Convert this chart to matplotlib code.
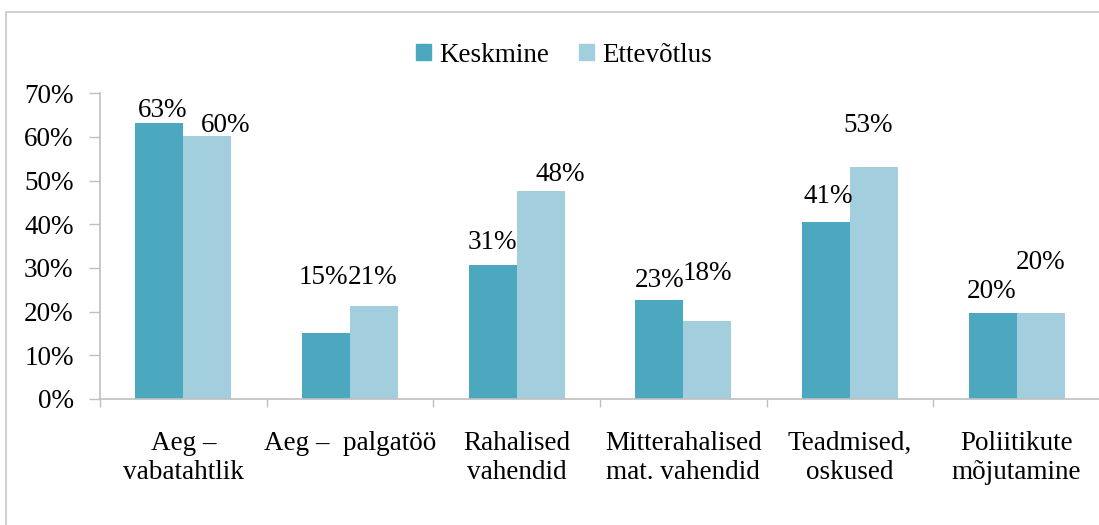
import numpy as np
import matplotlib
matplotlib.use('Agg')
import matplotlib.pyplot as plt
from matplotlib.patches import Rectangle, Patch
from matplotlib.ticker import PercentFormatter

categories = ['Aeg –\nvabatahtlik', 'Aeg –  palgatöö', 'Rahalised\nvahendid',
              'Mitterahalised\nmat. vahendid', 'Teadmised,\noskused', 'Poliitikute\nmõjutamine']
keskmine = [63.1, 15.0, 30.7, 22.6, 40.6, 19.8]
ettevotlus = [60.2, 21.3, 47.7, 17.8, 53.2, 19.8]
series_names = ['Keskmine', 'Ettevõtlus']
yticks = [0, 10, 20, 30, 40, 50, 60, 70]

# label nudges (pixels) - the original labels sit a bit irregularly
nudge_k = [(3, 6), (-3, 49), (0, 16), (0, 13), (2, 19), (-1, 15)]
nudge_e = [(18, 4), (-1, 22), (20, 10), (0, 41), (-6, 35), (0, 44)]

dark = '#4BA8BE'
light = '#A2CEDE'
grey = '#BFBFBF'

plt.rcParams['font.family'] = ['Liberation Serif', 'DejaVu Serif']
fs = 19.5

fig = plt.figure(figsize=(10.99, 5.25), dpi=100)
ax = fig.add_axes([100 / 1099, 1 - 399 / 525, 1000 / 1099, (399 - 93.3) / 525])

x = np.arange(len(categories))
w = 0.288
b1 = ax.bar(x - w / 2, keskmine, w, color=dark)
b2 = ax.bar(x + w / 2, ettevotlus, w, color=light)

for bars, vals, nud in [(b1, keskmine, nudge_k), (b2, ettevotlus, nudge_e)]:
    for r, v, (dx, dy) in zip(bars, vals, nud):
        ax.annotate(f'{v:.0f}%', (r.get_x() + r.get_width() / 2, r.get_height()),
                    xytext=(dx, dy), textcoords='offset pixels',
                    ha='center', va='baseline', fontsize=fs, color='black')

ax.set_xlim(-0.5, len(categories) - 0.5)
ax.set_ylim(0, 70)
ax.set_yticks(yticks)
ax.yaxis.set_major_formatter(PercentFormatter(decimals=0))
ax.set_xticks(x)
ax.set_xticklabels(categories, fontsize=fs, linespacing=1.2)
ax.set_xticks(np.arange(len(categories) + 1) - 0.5, minor=True)
ax.tick_params(axis='x', which='major', length=0, pad=23)
ax.tick_params(axis='x', which='minor', length=6, color=grey, width=1)
ax.tick_params(axis='y', length=8, color=grey, width=1, pad=11, labelsize=fs)

for s in ['top', 'right']:
    ax.spines[s].set_visible(False)
for s in ['left', 'bottom']:
    ax.spines[s].set_color(grey)
    ax.spines[s].set_linewidth(1.2)

handles = [Patch(color=dark), Patch(color=light)]
fig.legend(handles, series_names, loc='center', bbox_to_anchor=(564 / 1099, 1 - 55 / 525),
           ncol=2, frameon=False, fontsize=fs, handlelength=0.55, handleheight=0.55,
           handletextpad=0.3, columnspacing=1.1)

fig.patches.append(Rectangle((6 / 1099, -0.1), 1.2, 1.1 - 12 / 525, transform=fig.transFigure,
                             fill=False, edgecolor='#C8C8C8', lw=1.2))

fig.savefig('out.png', dpi=100)
